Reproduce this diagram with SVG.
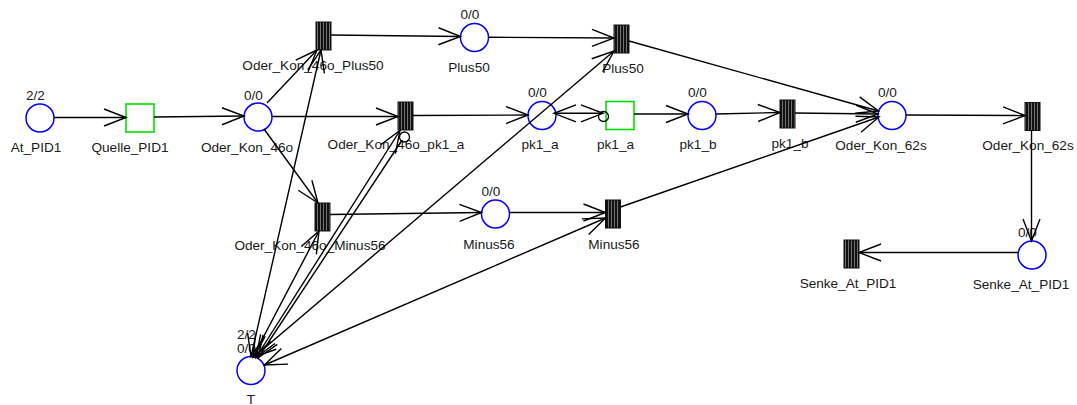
<svg xmlns="http://www.w3.org/2000/svg" width="1077" height="405" viewBox="0 0 1077 405">
  <style>
    .place { fill: #fff; stroke: #0000ff; stroke-width: 1.5; }
    .imm { fill: #fff; stroke: #00e000; stroke-width: 1.6; }
    .timed { fill: url(#stripes); stroke: #111; stroke-width: 1; }
    text { font-family: "Liberation Sans", Arial, sans-serif; font-size: 13.6px; fill: #1a1a1a; }
    .c { text-anchor: middle; }
    .arc { fill: none; stroke: #000; stroke-width: 1.4; marker-end: url(#arr); }
    .both { marker-start: url(#arr); }
    .start-only { marker-end: none; marker-start: url(#arr); }
    .inhib { fill: none; stroke: #000; stroke-width: 1.3; }
  </style>
  <defs>
    <!-- vertical striping used for timed transitions -->
    <pattern id="stripes" patternUnits="userSpaceOnUse" width="3" height="10">
      <rect x="0" y="0" width="3" height="10" fill="#111"/>
      <rect x="2" y="0" width="0.8" height="10" fill="#8a8a8a"/>
    </pattern>
    <!-- open V arrowhead -->
    <marker id="arr" viewBox="-24 -11 26 22" refX="0" refY="0" markerWidth="26" markerHeight="22" markerUnits="userSpaceOnUse" orient="auto-start-reverse">
      <path d="M-22,-8.5 L0,0 L-22,8.5" fill="none" stroke="#000" stroke-width="1.4"/>
    </marker>
  </defs>

  <rect width="1077" height="405" fill="#fff"/>

  <!-- places -->
  <g id="place-At_PID1">
    <circle class="place" cx="40" cy="118" r="14"/>
    <text x="26" y="100">2/2</text>
    <text class="c" x="36" y="152">At_PID1</text>
  </g>
  <g id="place-Oder_Kon_46o">
    <circle class="place" cx="258" cy="117" r="14"/>
    <text x="244" y="100">0/0</text>
    <text class="c" x="247" y="152">Oder_Kon_46o</text>
  </g>
  <g id="place-Plus50">
    <circle class="place" cx="474.5" cy="37.5" r="14"/>
    <text x="460.5" y="19">0/0</text>
    <text class="c" x="469" y="72">Plus50</text>
  </g>
  <g id="place-pk1_a">
    <circle class="place" cx="542" cy="115.5" r="14"/>
    <text x="528" y="97">0/0</text>
    <text class="c" x="540" y="149">pk1_a</text>
  </g>
  <g id="place-pk1_b">
    <circle class="place" cx="702" cy="115.5" r="14"/>
    <text x="688" y="97">0/0</text>
    <text class="c" x="698" y="149">pk1_b</text>
  </g>
  <g id="place-Oder_Kon_62s">
    <circle class="place" cx="892" cy="115.5" r="14"/>
    <text x="878" y="97">0/0</text>
    <text class="c" x="881" y="150">Oder_Kon_62s</text>
  </g>
  <g id="place-Minus56">
    <circle class="place" cx="495.5" cy="214" r="14"/>
    <text x="481.5" y="196">0/0</text>
    <text class="c" x="489" y="249">Minus56</text>
  </g>
  <g id="place-Senke_At_PID1">
    <circle class="place" cx="1032" cy="255" r="14"/>
    <text x="1018" y="237">0/0</text>
    <text class="c" x="1021" y="289">Senke_At_PID1</text>
  </g>
  <g id="place-T">
    <circle class="place" cx="251" cy="370.5" r="14"/>
    <text x="237" y="339">2/2</text>
    <text x="237" y="353">0/0</text>
    <text class="c" x="251" y="404">T</text>
  </g>

  <!-- immediate transitions -->
  <g id="trans-Quelle_PID1">
    <rect class="imm" x="126" y="104" width="28" height="28"/>
    <text class="c" x="130" y="152">Quelle_PID1</text>
  </g>
  <g id="trans-pk1_a">
    <rect class="imm" x="606" y="101.5" width="28" height="28"/>
    <text class="c" x="615.5" y="149">pk1_a</text>
  </g>

  <!-- timed transitions -->
  <g id="trans-Oder_Kon_46o_Plus50">
    <rect class="timed" x="316" y="22" width="15" height="28"/>
    <text class="c" x="313" y="70">Oder_Kon_46o_Plus50</text>
  </g>
  <g id="trans-Plus50">
    <rect class="timed" x="614" y="25" width="15" height="28"/>
    <text class="c" x="623" y="73">Plus50</text>
  </g>
  <g id="trans-Oder_Kon_46o_pk1_a">
    <rect class="timed" x="398" y="102" width="15" height="28"/>
    <text class="c" x="396" y="149">Oder_Kon_46o_pk1_a</text>
  </g>
  <g id="trans-pk1_b">
    <rect class="timed" x="780" y="100" width="15" height="28"/>
    <text class="c" x="790" y="148">pk1_b</text>
  </g>
  <g id="trans-Oder_Kon_62s">
    <rect class="timed" x="1025" y="102.5" width="15" height="28"/>
    <text class="c" x="1028" y="150">Oder_Kon_62s</text>
  </g>
  <g id="trans-Oder_Kon_46o_Minus56">
    <rect class="timed" x="315" y="203" width="15" height="28"/>
    <text class="c" x="310" y="250">Oder_Kon_46o_Minus56</text>
  </g>
  <g id="trans-Minus56">
    <rect class="timed" x="605.5" y="200" width="15" height="28"/>
    <text class="c" x="614" y="249">Minus56</text>
  </g>
  <g id="trans-Senke_At_PID1">
    <rect class="timed" x="844" y="240" width="15" height="28"/>
    <text class="c" x="848" y="288">Senke_At_PID1</text>
  </g>

  <!-- arcs -->
  <g id="connectors">
    <path class="arc" d="M54,117.5 L126,117.5"/>
    <path class="arc" d="M154,117 L244,116"/>
    <path class="arc" d="M267,103 L317,50"/>
    <path class="arc" d="M272,116.5 L398,116.5"/>
    <path class="arc" d="M264,129 L318,203"/>
    <path class="arc" d="M331,35 L460.5,36.5"/>
    <path class="arc" d="M488.5,37.3 L614,38"/>
    <path class="arc" d="M629,41 L878.5,111"/>
    <path class="arc" d="M413,115.5 L528,115"/>
    <path class="arc both" d="M554,113.3 L603,113.3"/>
    <circle class="inhib" cx="603.5" cy="116.5" r="5"/>
    <path class="arc" d="M634,114 L688,114"/>
    <path class="arc" d="M716,114 L780,112.5"/>
    <path class="arc" d="M795,113 L878,114"/>
    <path class="arc" d="M620.5,207 L879,117"/>
    <path class="arc" d="M906,115 L1025,115.5"/>
    <path class="arc" d="M1031.5,130.5 L1031.5,241"/>
    <path class="arc" d="M1018,252.5 L859,252.5"/>
    <path class="arc" d="M330,214.5 L481.5,212.5"/>
    <path class="arc" d="M509.5,212.5 L605.5,212.5"/>
    <!-- arcs between place T and the transitions -->
    <path class="arc both" d="M251,356.5 L321,50"/>
    <path class="arc both" d="M254,357 L614,51"/>
    <path class="arc both" d="M256,357.5 L400,130.5"/>
    <path class="arc start-only" d="M258,358 L401.5,141"/>
    <circle class="inhib" cx="404.5" cy="137" r="5"/>
    <path class="arc both" d="M253,357 L319,231"/>
    <path class="arc both" d="M264.5,365 L605.5,218"/>
  </g>
</svg>
